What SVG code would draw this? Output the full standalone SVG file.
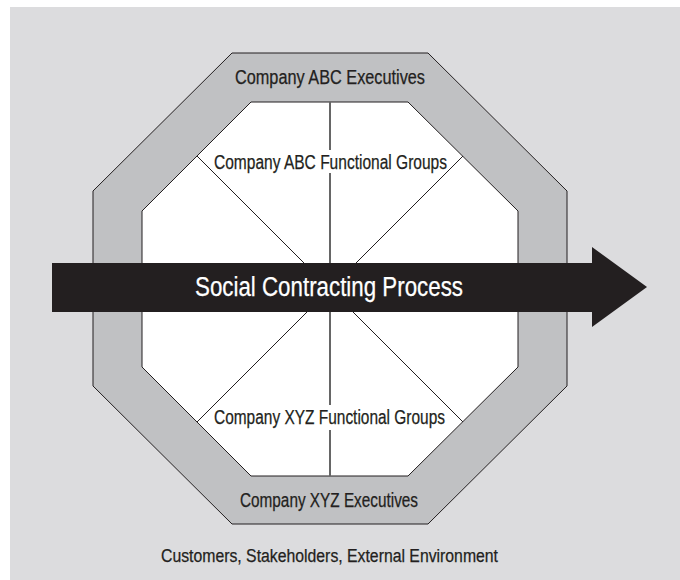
<svg xmlns="http://www.w3.org/2000/svg" width="680" height="580" viewBox="0 0 680 580">
  <style>
    .lbl { font-family: "Liberation Sans Narrow", "Liberation Sans", Arial, sans-serif; fill: #231f20; text-anchor: middle; stroke: #231f20; stroke-width: 0.25; }
    .ring { fill: #c0c1c3; stroke: #231f20; stroke-width: 1; }
    .field { fill: #ffffff; stroke: #231f20; stroke-width: 1; }
    .spoke { stroke: #231f20; stroke-width: 1; fill: none; }
    .axis { stroke: #666666; stroke-width: 2; fill: none; }
  </style>

  <!-- environment backdrop -->
  <rect x="0" y="0" width="680" height="580" fill="#ffffff"/>
  <rect id="environment" x="10" y="7" width="670" height="573" fill="#dcdcde"/>

  <!-- executives ring (outer octagon) -->
  <g id="executives-ring">
    <polygon class="ring" points="232,53 428,53 567,191 567,386 428,524 232,524 93,386 93,191"/>
  </g>

  <!-- functional groups field (inner octagon) -->
  <g id="functional-groups">
    <polygon class="field" points="251,102 408,102 518,211 518,367 408,476 251,476 142,367 142,211"/>
  </g>

  <!-- dividing spokes -->
  <g id="connectors">
    <line class="spoke" x1="197" y1="156" x2="463" y2="422"/>
    <line class="spoke" x1="463" y1="156" x2="197" y2="422"/>
    <line class="axis" x1="330" y1="102" x2="330" y2="150"/>
    <line class="axis" x1="330" y1="173" x2="330" y2="405"/>
    <line class="axis" x1="330" y1="430" x2="330" y2="476"/>
  </g>

  <!-- process arrow -->
  <g id="process-arrow">
    <polygon fill="#231f20" points="52,263 592,263 592,247 647,287 592,327 592,312 52,312"/>
    <text class="lbl" x="329" y="296" font-size="27" style="fill:#ffffff;stroke:#ffffff" textLength="268" lengthAdjust="spacingAndGlyphs">Social Contracting Process</text>
  </g>

  <g id="abc-executives">
    <text class="lbl" x="330" y="84" font-size="20" textLength="190" lengthAdjust="spacingAndGlyphs">Company ABC Executives</text>
  </g>
  <g id="abc-functional-groups">
    <text class="lbl" x="330.5" y="169" font-size="20" textLength="233" lengthAdjust="spacingAndGlyphs">Company ABC Functional Groups</text>
  </g>
  <g id="xyz-functional-groups">
    <text class="lbl" x="329.5" y="424" font-size="20" textLength="231" lengthAdjust="spacingAndGlyphs">Company XYZ Functional Groups</text>
  </g>
  <g id="xyz-executives">
    <text class="lbl" x="329" y="507" font-size="20" textLength="178" lengthAdjust="spacingAndGlyphs">Company XYZ Executives</text>
  </g>
  <g id="environment-label">
    <text class="lbl" x="329.5" y="562" font-size="18" textLength="337" lengthAdjust="spacingAndGlyphs">Customers, Stakeholders, External Environment</text>
  </g>
</svg>
